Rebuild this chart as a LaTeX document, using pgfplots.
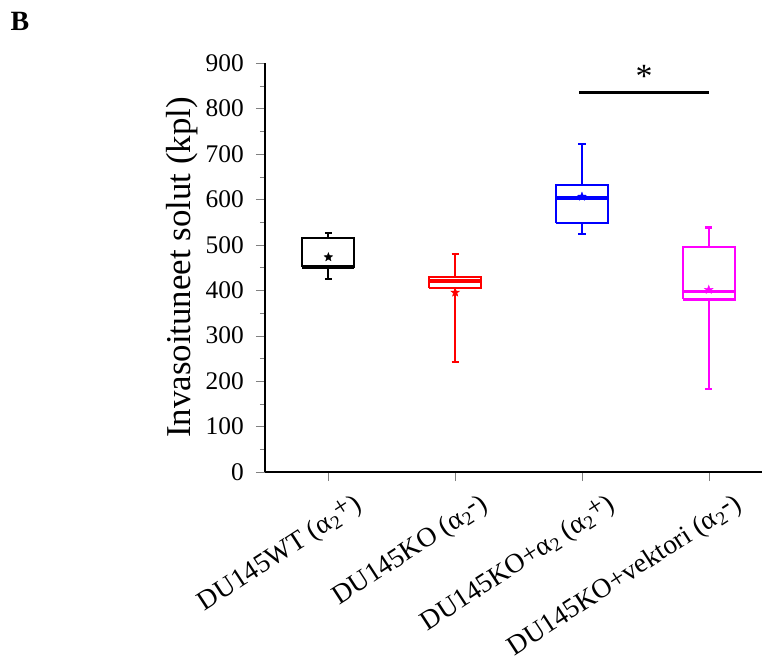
\documentclass[border=0pt]{standalone}
\usepackage{pgfplots}
\pgfplotsset{compat=1.18}
\usepackage{fontspec}
\setmainfont{Liberation Serif}

\pgfdeclareplotmark{fstar}{%
  \pgfpathmoveto{\pgfqpointpolar{90}{\pgfplotmarksize}}%
  \pgfpathlineto{\pgfqpointpolar{126}{0.42\pgfplotmarksize}}%
  \pgfpathlineto{\pgfqpointpolar{162}{\pgfplotmarksize}}%
  \pgfpathlineto{\pgfqpointpolar{198}{0.42\pgfplotmarksize}}%
  \pgfpathlineto{\pgfqpointpolar{234}{\pgfplotmarksize}}%
  \pgfpathlineto{\pgfqpointpolar{270}{0.42\pgfplotmarksize}}%
  \pgfpathlineto{\pgfqpointpolar{306}{\pgfplotmarksize}}%
  \pgfpathlineto{\pgfqpointpolar{342}{0.42\pgfplotmarksize}}%
  \pgfpathlineto{\pgfqpointpolar{18}{\pgfplotmarksize}}%
  \pgfpathlineto{\pgfqpointpolar{54}{0.42\pgfplotmarksize}}%
  \pgfpathclose
  \pgfusepathqfillstroke}

\definecolor{cred}{RGB}{255,0,0}
\definecolor{cblue}{RGB}{0,0,255}
\definecolor{cmag}{RGB}{255,0,255}

\newcommand{\lab}[2]{#1 (α\textsubscript{2}\raisebox{0.15em}{#2})}

\pgfplotsset{
  boxl/.style={line width=2.1bp, mark=none, line join=miter, unbounded coords=jump},
  medl/.style={line width=3.6bp, mark=none},
  meanm/.style={only marks, mark=fstar, mark size=4.5bp},
}

\begin{document}
\begin{tikzpicture}
\begin{axis}[
  name=ax,
  scale only axis,
  width=497bp, height=409bp,
  xmin=0.5, xmax=4.42,
  ymin=0, ymax=900,
  axis x line*=bottom, axis y line*=left,
  axis line style={line width=1.8bp, black},
  xtick={1,2,3,4},
  xticklabels={\lab{DU145WT}{+},\lab{DU145KO}{-},\lab{DU145KO+α\textsubscript{2}}{+},\lab{DU145KO+vektori}{-}},
  ytick={0,100,...,900},
  minor y tick num=1,
  tick align=outside,
  major tick length=9bp, minor tick length=5bp,
  /pgf/number format/assume math mode=true,
  yticklabel style={font=\fontsize{25.5}{25.5}\selectfont, inner sep=1bp, xshift=-11bp},
  xticklabel style={font=\fontsize{27.5}{27.5}\selectfont, rotate=33, anchor=north east, inner sep=0pt, xshift=14bp, yshift=-22bp},
  ylabel={Invasoituneet solut (kpl)},
  ylabel style={font=\fontsize{35}{35}\selectfont, yshift=3bp},
  clip=false,
]
% group 1 (black)
\addplot[boxl, black] coordinates {
 (0.795,450.8) (1.205,450.8) (1.205,514.6) (0.795,514.6) (0.795,450.8) (1,nan)
 (1,514.6) (1,525.6) (1,nan) (0.972,525.6) (1.028,525.6) (1,nan)
 (1,450.8) (1,425) (1,nan) (0.972,425) (1.028,425)};
\addplot[medl, black] coordinates {(0.795,450.8) (1.205,450.8)};
% group 2 (red)
\addplot[boxl, cred] coordinates {
 (1.795,405) (2.205,405) (2.205,430) (1.795,430) (1.795,405) (2,nan)
 (2,430) (2,479.4) (2,nan) (1.972,479.4) (2.028,479.4) (2,nan)
 (2,405) (2,242) (2,nan) (1.972,242) (2.028,242)};
\addplot[medl, cred] coordinates {(1.795,420) (2.205,420)};
% group 3 (blue)
\addplot[boxl, cblue] coordinates {
 (2.795,547.6) (3.205,547.6) (3.205,631) (2.795,631) (2.795,547.6) (3,nan)
 (3,631) (3,721) (3,nan) (2.972,721) (3.028,721) (3,nan)
 (3,547.6) (3,524) (3,nan) (2.972,524) (3.028,524)};
\addplot[medl, cblue] coordinates {(2.795,602.6) (3.205,602.6)};
% group 4 (magenta)
\addplot[boxl, cmag] coordinates {
 (3.795,379.6) (4.205,379.6) (4.205,495) (3.795,495) (3.795,379.6) (4,nan)
 (4,495) (4,538) (4,nan) (3.972,538) (4.028,538) (4,nan)
 (4,379.6) (4,182.5) (4,nan) (3.972,182.5) (4.028,182.5)};
\addplot[medl, cmag] coordinates {(3.795,397) (4.205,397)};

\addplot[meanm, black] coordinates {(1,472.8)};
\addplot[meanm, cred] coordinates {(2,395)};
\addplot[meanm, cblue] coordinates {(3,606)};
\addplot[meanm, cmag] coordinates {(4,401)};

\addplot[black, line width=3bp, mark=none] coordinates {(2.98,836) (4.0,836)};
\node[font=\fontsize{34}{34}\selectfont, inner sep=0pt] at (axis cs:3.49,870) {*};
\end{axis}
\node[font=\bfseries\fontsize{28}{28}\selectfont, inner sep=0pt] at ([xshift=-245bp,yshift=42bp]ax.north west) {B};
\pgfresetboundingbox
\useasboundingbox ([xshift=-265bp,yshift=-191bp]ax.south west) rectangle ([yshift=63bp]ax.north east);
\end{tikzpicture}
\end{document}
